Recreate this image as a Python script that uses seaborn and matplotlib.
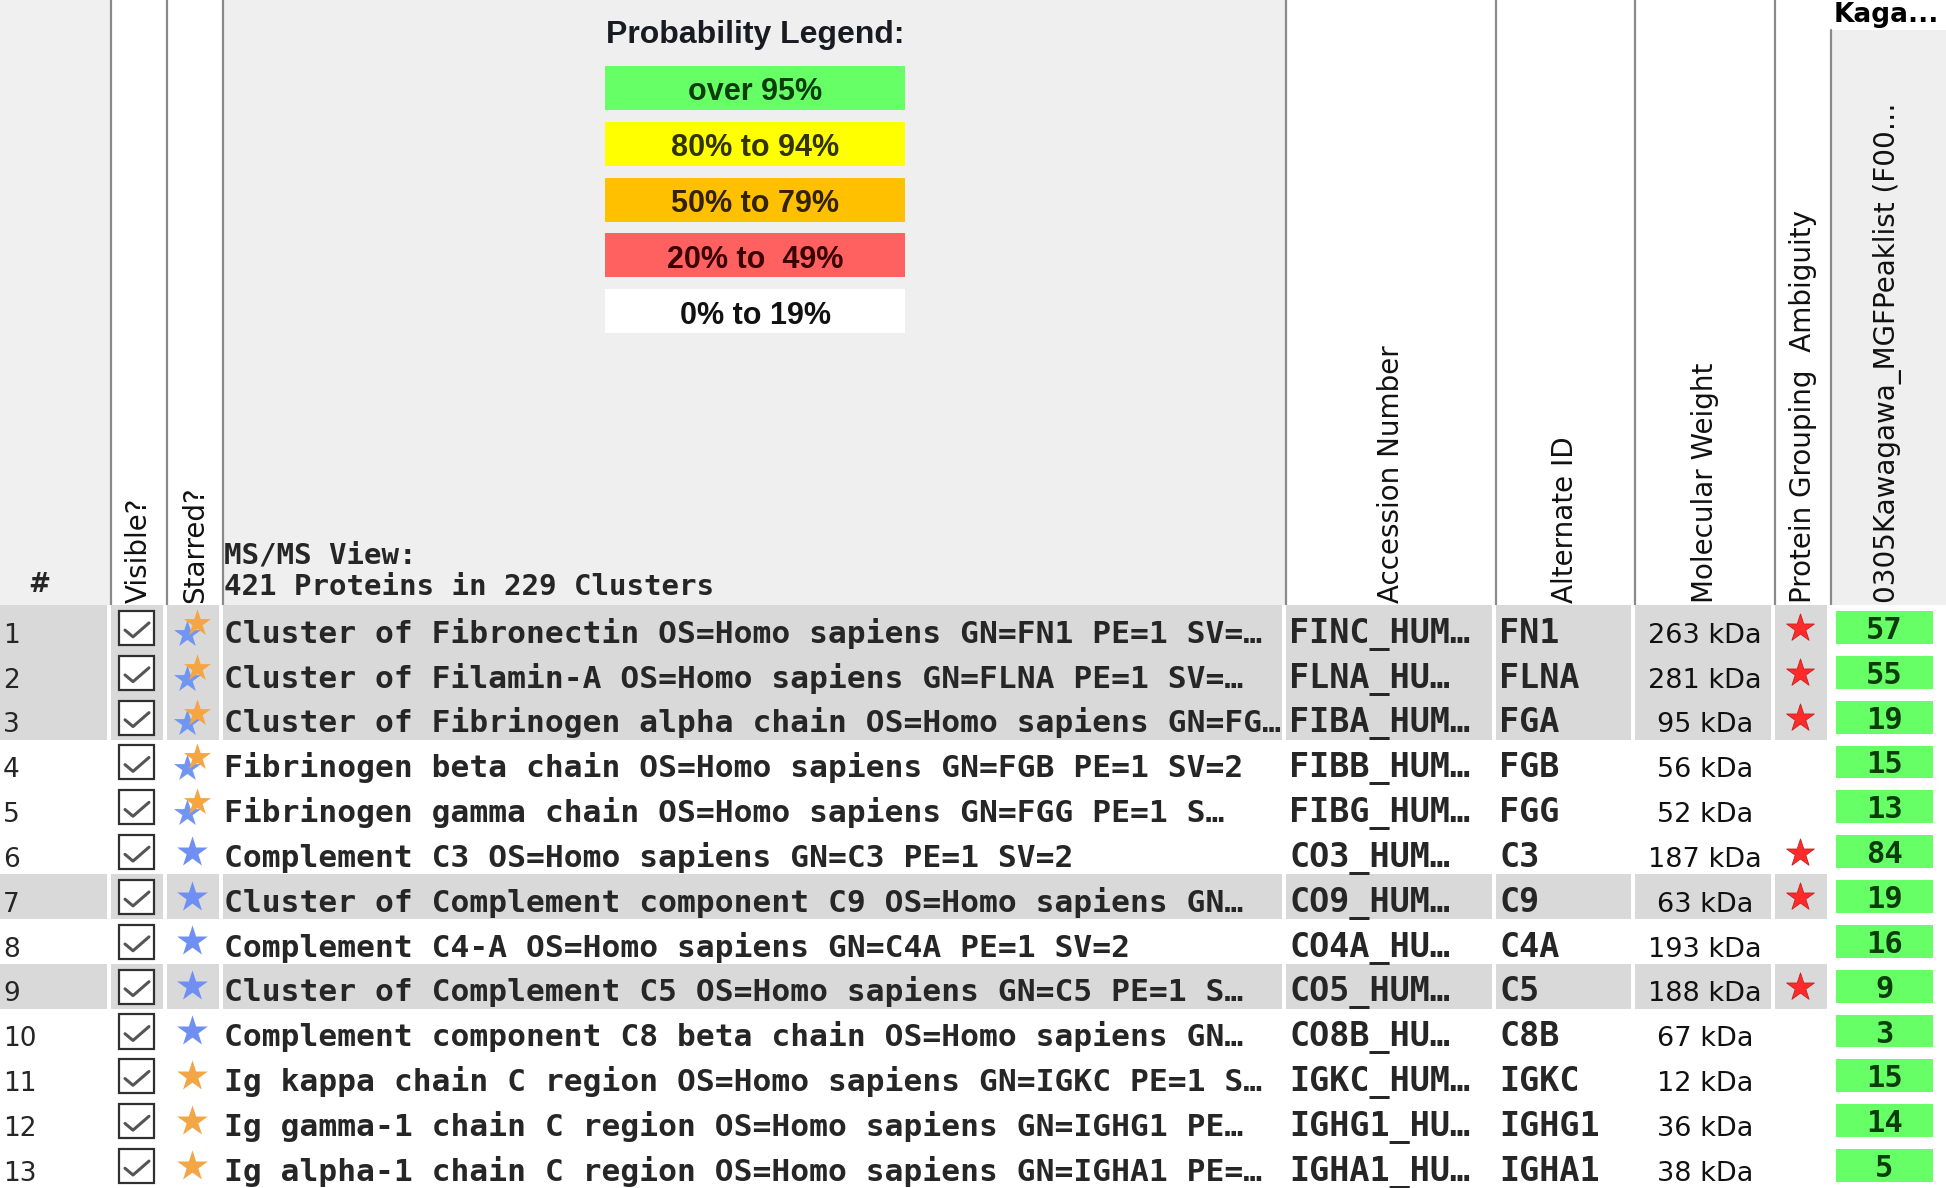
import matplotlib
matplotlib.use("Agg")
import matplotlib.pyplot as plt
from matplotlib.colors import ListedColormap
from matplotlib.patches import Rectangle
import numpy as np
import pandas as pd
import seaborn as sns

# ---- data ----
row_ids = list(range(1, 14))
protein_names = [
    "Cluster of Fibronectin OS=Homo sapiens GN=FN1 PE=1 SV=\u2026",
    "Cluster of Filamin-A OS=Homo sapiens GN=FLNA PE=1 SV=\u2026",
    "Cluster of Fibrinogen alpha chain OS=Homo sapiens GN=FG\u2026",
    "Fibrinogen beta chain OS=Homo sapiens GN=FGB PE=1 SV=2",
    "Fibrinogen gamma chain OS=Homo sapiens GN=FGG PE=1 S\u2026",
    "Complement C3 OS=Homo sapiens GN=C3 PE=1 SV=2",
    "Cluster of Complement component C9 OS=Homo sapiens GN\u2026",
    "Complement C4-A OS=Homo sapiens GN=C4A PE=1 SV=2",
    "Cluster of Complement C5 OS=Homo sapiens GN=C5 PE=1 S\u2026",
    "Complement component C8 beta chain OS=Homo sapiens GN\u2026",
    "Ig kappa chain C region OS=Homo sapiens GN=IGKC PE=1 S\u2026",
    "Ig gamma-1 chain C region OS=Homo sapiens GN=IGHG1 PE\u2026",
    "Ig alpha-1 chain C region OS=Homo sapiens GN=IGHA1 PE=\u2026",
]
accessions = ["FINC_HUM\u2026", "FLNA_HU\u2026", "FIBA_HUM\u2026", "FIBB_HUM\u2026",
              "FIBG_HUM\u2026", "CO3_HUM\u2026", "CO9_HUM\u2026", "CO4A_HU\u2026",
              "CO5_HUM\u2026", "CO8B_HU\u2026", "IGKC_HUM\u2026", "IGHG1_HU\u2026",
              "IGHA1_HU\u2026"]
alt_ids = ["FN1", "FLNA", "FGA", "FGB", "FGG", "C3", "C9", "C4A", "C5", "C8B",
           "IGKC", "IGHG1", "IGHA1"]
mol_weights = [263, 281, 95, 56, 52, 187, 63, 193, 188, 67, 12, 36, 38]
ambiguous = [1, 1, 1, 0, 0, 1, 1, 0, 1, 0, 0, 0, 0]
is_cluster = [1, 1, 1, 0, 0, 0, 1, 0, 1, 0, 0, 0, 0]
star_kind = ["both"] * 5 + ["blue"] * 5 + ["orange"] * 3
peptide_counts = [57, 55, 19, 15, 13, 84, 19, 16, 9, 3, 15, 14, 5]

legend_labels = ["over 95%", "80% to 94%", "50% to 79%", "20% to  49%", "0% to 19%"]
legend_colors = ["#66ff66", "#ffff00", "#ffc000", "#ff6060", "#ffffff"]
legend_text_colors = ["#0b3d0b", "#333300", "#332200", "#3a0000", "#111111"]

header_labels = ["Visible?", "Starred?", "Accession Number", "Alternate ID",
                 "Molecular Weight", "Protein Grouping  Ambiguity",
                 "0305Kawagawa_MGFPeaklist (F00\u2026"]

# ---- layout (pixels) ----
W, H = 1946, 1188
HEAD = 605
col_edges = [0, 111, 167, 223, 1286, 1496, 1635, 1775, 1831, 1946]
n = len(row_ids)
MONO = "DejaVu Sans Mono"
SANS = "DejaVu Sans"

sns.set_theme(style="white")
fig = plt.figure(figsize=(W / 100, H / 100), dpi=100, facecolor="white")

# header axes in pixel units
ax_h = fig.add_axes([0, (H - HEAD) / H, 1, HEAD / H])
ax_h.set_xlim(0, W)
ax_h.set_ylim(HEAD, 0)
ax_h.axis("off")

head_fill = ["#f0f0f0", "white", "white", "#efefef", "white", "white", "white", "white", "#efefef"]
for j, c in enumerate(head_fill):
    top = 30 if j == 8 else 0
    ax_h.add_patch(Rectangle((col_edges[j], top), col_edges[j + 1] - col_edges[j], HEAD - top,
                             facecolor=c, edgecolor="none", zorder=0))
for j, x in enumerate(col_edges[1:9]):
    top = 30 if j == 7 else 0
    ax_h.plot([x, x], [top, HEAD], color="#8a8a8a", lw=1.6, zorder=2)

ax_h.text(1834, 15, "Kaga...", family=SANS, weight="bold", fontsize=19,
          ha="left", va="center", color="black")
ax_h.text(39, 585, "#", family=SANS, weight="bold", fontsize=19, ha="center", va="center")
ax_h.text(224, 555, "MS/MS View:", family=MONO, weight="bold", fontsize=21, ha="left", va="center")
ax_h.text(224, 587, "421 Proteins in 229 Clusters", family=MONO, weight="bold", fontsize=21,
          ha="left", va="center")

rot_centers = [139, 195, 1391, 1565, 1705, 1803, 1888]
for lab, xc in zip(header_labels, rot_centers):
    ax_h.text(xc, 603, lab, family=SANS, fontsize=20, rotation=90,
              ha="center", va="bottom", color="#111111")

# probability legend
ax_h.text(755, 35, "Probability Legend:", family="Liberation Sans", weight="bold",
          fontsize=23, ha="center", va="center", color="#1a1a22")
for k, (lab, fc, tc) in enumerate(zip(legend_labels, legend_colors, legend_text_colors)):
    y0 = 66 + k * 55.8
    ax_h.add_patch(Rectangle((605, y0), 300, 44, facecolor=fc, edgecolor="none", zorder=1))
    ax_h.text(755, y0 + 23, lab, family="Liberation Sans", weight="bold", fontsize=22,
              ha="center", va="center_baseline", color=tc, zorder=3)

# rows axes: x in pixels, y in row units
ax_r = fig.add_axes([0, 0, 1, (H - HEAD) / H])
ax_r.set_xlim(0, W)
ax_r.set_ylim(n, 0)
ax_r.axis("off")

for i in range(n):
    if is_cluster[i]:
        for j in range(8):
            ax_r.add_patch(Rectangle((col_edges[j], i), col_edges[j + 1] - 4 - col_edges[j], 1,
                                     facecolor="#d9d9d9", edgecolor="none", zorder=0))
    base = i + 0.84
    ax_r.text(3, base, str(row_ids[i]), family=SANS, fontsize=19, ha="left", va="baseline")
    # checkbox
    ax_r.add_patch(Rectangle((119, i + 0.13), 35, 0.76, facecolor="white",
                             edgecolor="#303030", lw=1.6, zorder=2))
    ax_r.plot([125, 133, 149], [i + 0.56, i + 0.71, i + 0.40], color="#555555",
              lw=2.2, zorder=3, solid_capstyle="round")
    ax_r.text(224, base, protein_names[i], family=MONO, weight="bold", fontsize=22.5,
              ha="left", va="baseline")
    ax_r.text(1289, base, accessions[i], family=MONO, weight="bold", fontsize=24,
              ha="left", va="baseline")
    ax_r.text(1499, base, alt_ids[i], family=MONO, weight="bold", fontsize=24,
              ha="left", va="baseline")
    ax_r.text(1705, base, f"{mol_weights[i]} kDa", family=SANS, fontsize=19.5,
              ha="center", va="baseline", color="#111111")

# starred column
for i, kind in enumerate(star_kind):
    if kind == "both":
        ax_r.scatter([187], [i + 0.64], marker="*", s=420, color="#7196f2", linewidths=0, zorder=3)
        ax_r.scatter([197], [i + 0.40], marker="*", s=420, color="#f5a640", linewidths=0, zorder=4)
    else:
        c = "#6f8ff3" if kind == "blue" else "#f2a645"
        ax_r.scatter([192], [i + 0.5], marker="*", s=540, color=c, linewidths=0, zorder=3)

# protein grouping ambiguity
amb_rows = [i + 0.52 for i in range(n) if ambiguous[i]]
ax_r.scatter([1800] * len(amb_rows), amb_rows, marker="*", s=440, color="#ff2b2b",
             edgecolor="#c81e1e", linewidths=0.6, zorder=3)

# peptide count column as a seaborn heatmap
ax_p = fig.add_axes([1830 / W, 0, 109 / W, (H - HEAD) / H])
pep = pd.DataFrame({"count": peptide_counts}, index=row_ids)
sns.heatmap(pep, ax=ax_p, cmap=ListedColormap(["#66ff66"]), cbar=False,
            annot=True, fmt="d", linewidths=8.6, linecolor="white",
            xticklabels=False, yticklabels=False,
            annot_kws={"color": "#0b3d0b", "fontsize": 22, "fontweight": "bold",
                       "family": MONO, "va": "center_baseline"})
ax_p.set_xlabel("")
ax_p.set_ylabel("")

fig.savefig("out.png", dpi=100, facecolor="white")
